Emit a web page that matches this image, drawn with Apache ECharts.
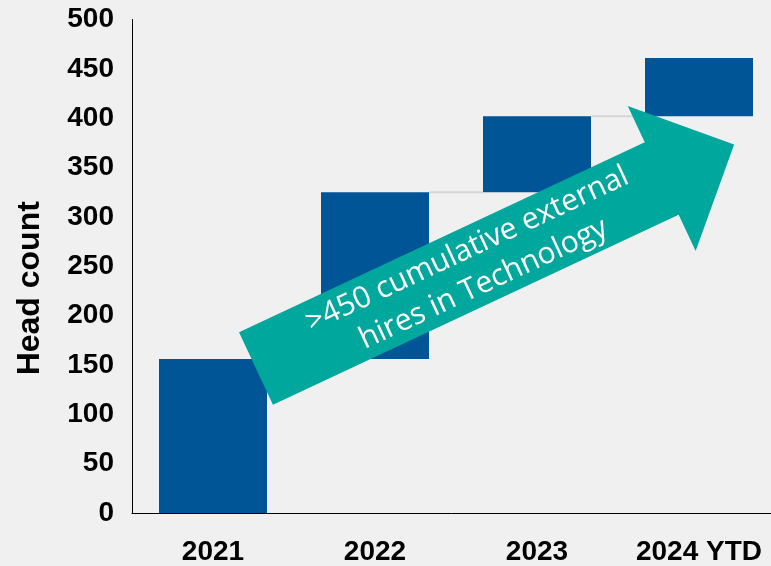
<!DOCTYPE html>
<html>
<head>
<meta charset="utf-8">
<script src="https://cdn.jsdelivr.net/npm/echarts@6/dist/echarts.min.js"></script>
<style>
  html, body { margin: 0; padding: 0; background: #f0f0f0; }
  #chart { width: 771px; height: 566px; }
</style>
</head>
<body>
<div id="chart"></div>
<script>
// Yearly external hires (waterfall increments)
const categories = ['2021', '2022', '2023', '2024 YTD'];
const hires = [156, 169, 77, 59];
const yTicks = { min: 0, max: 500, interval: 50 };

// Running totals: each bar floats on the sum of the previous years
const totals = [];
const bases = [];
let running = 0;
hires.forEach(function (v) {
  bases.push(running);
  running += v;
  totals.push(running);
});

const BAR_RATIO = 2 / 3;
const LABEL_FONT = 'Liberation Sans, Arial, sans-serif';

const chart = echarts.init(document.getElementById('chart'));

// Connector data: from the top of bar i across to bar i+1
const connectorData = totals.slice(0, -1).map(function (t, i) { return [i, t]; });

chart.setOption({
  backgroundColor: '#f0f0f0',
  animation: false,
  grid: {
    left: 132, top: 19.5, width: 648, bottom: 53,
    containLabel: false, outerBoundsMode: 'none'
  },
  xAxis: {
    type: 'category',
    data: categories,
    axisTick: { show: false },
    axisLine: { lineStyle: { color: '#000', width: 1 } },
    axisLabel: {
      color: '#000', fontFamily: LABEL_FONT, fontWeight: 'bold', fontSize: 28,
      margin: 25, interval: 0
    }
  },
  yAxis: {
    type: 'value',
    min: yTicks.min, max: yTicks.max, interval: yTicks.interval,
    name: 'Head count',
    nameLocation: 'middle',
    nameRotate: 90,
    nameGap: 86,
    nameTextStyle: {
      color: '#000', fontFamily: LABEL_FONT, fontWeight: 'bold', fontSize: 32,
      padding: [0, 44, 0, 0]
    },
    splitLine: { show: false },
    axisTick: { show: false },
    axisLine: { show: true, lineStyle: { color: '#000', width: 1 } },
    axisLabel: { color: '#000', fontFamily: LABEL_FONT, fontWeight: 'bold', fontSize: 28, margin: 18 }
  },
  series: [
    {
      name: 'base',
      type: 'bar',
      stack: 'wf',
      barWidth: (BAR_RATIO * 100) + '%',
      itemStyle: { color: 'transparent' },
      silent: true,
      data: bases
    },
    {
      name: 'hires',
      type: 'bar',
      stack: 'wf',
      barWidth: (BAR_RATIO * 100) + '%',
      itemStyle: { color: '#005596' },
      data: hires
    },
    {
      name: 'connector',
      type: 'custom',
      silent: true,
      z: 1,
      renderItem: function (params, api) {
        const p = api.coord([api.value(0), api.value(1)]);
        const band = api.size([1, 0])[0];
        const half = band * BAR_RATIO / 2;
        return {
          type: 'line',
          shape: { x1: p[0] + half, y1: p[1], x2: p[0] + band - half, y2: p[1] },
          style: { stroke: '#d6d6d6', lineWidth: 2 }
        };
      },
      data: connectorData
    }
  ],
  graphic: [
    {
      type: 'group',
      x: 256, y: 368.5,
      rotation: 25.1 * Math.PI / 180,
      zlevel: 1,
      z: 100,
      children: [
        {
          type: 'polygon',
          z: 100,
          shape: { points: [[0, -40], [448, -40], [448, -80], [528, 0], [448, 80], [448, 40], [0, 40]] },
          style: { fill: '#00a79d' }
        },
        {
          type: 'text',
          z: 101,
          x: 242, y: 1,
          style: {
            text: '>450 cumulative external\nhires in Technology',
            fill: '#ffffff',
            font: '30px "Open Sans", sans-serif',
            lineHeight: 38,
            textAlign: 'center',
            textVerticalAlign: 'middle'
          }
        }
      ]
    }
  ]
});
</script>
</body>
</html>
